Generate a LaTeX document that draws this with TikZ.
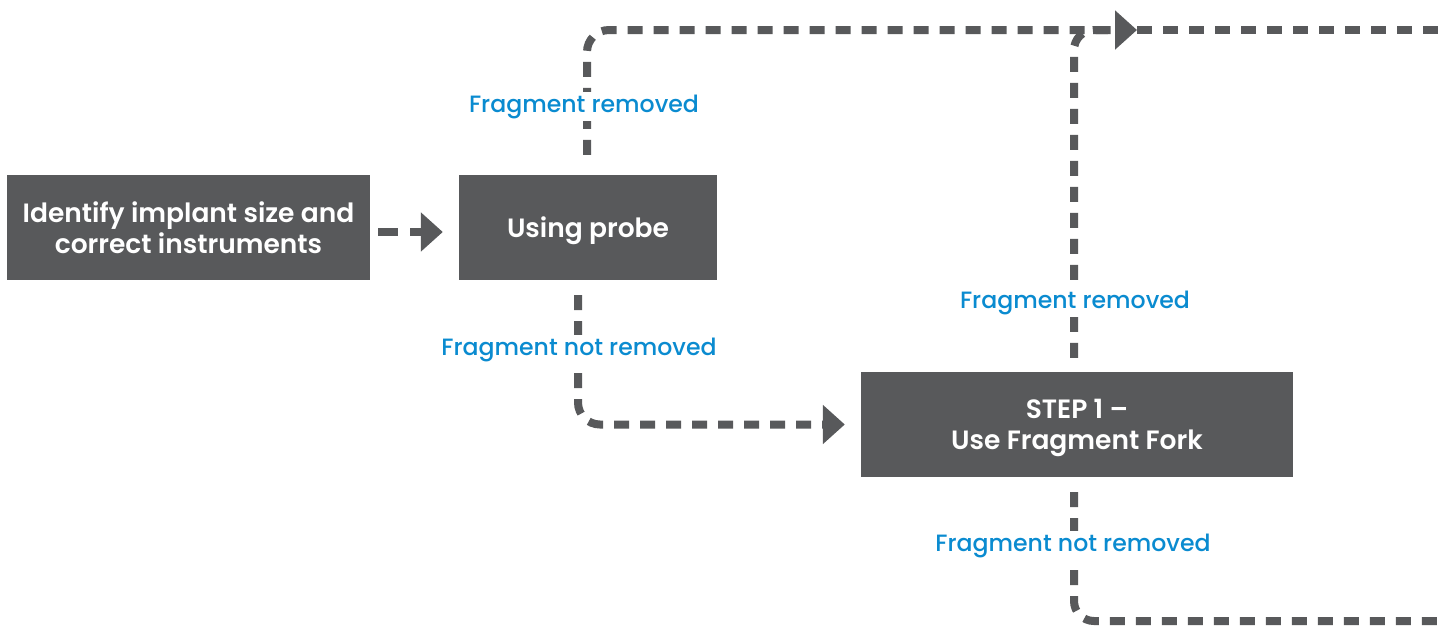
\documentclass[tikz,border=0pt]{standalone}
\usepackage{fontspec}
\setmainfont{Poppins}
\newfontfamily\boxfont{Poppins SemiBold}
\newfontfamily\labfont{Poppins Medium}
\usetikzlibrary{arrows.meta,calc}
\definecolor{boxgray}{HTML}{58595B}
\definecolor{labblue}{HTML}{0A8BD0}
\begin{document}
\begin{tikzpicture}[x=1pt,y=-1pt,
  stepbox/.style={fill=boxgray,text=white,inner sep=0pt,align=center,text depth=0pt,
    font=\fontsize{26.5}{31}\boxfont},
  conn/.style={draw=boxgray,line width=8pt,dash pattern=on 15pt off 11pt},
  tip/.style={-{Triangle[length=22pt,width=38pt]}},
  lab/.style={fill=white,text=labblue,inner sep=3pt,anchor=base,font=\fontsize{23.6}{26}\labfont}]
\useasboundingbox (0,0) rectangle (1444,625);
\node[stepbox,minimum width=363pt,minimum height=105pt] (A) at (188.5,227.5)
  {Identify implant size and\\correct instruments};
\node[stepbox,minimum width=258pt,minimum height=105pt] (B) at (588,227.5) {Using probe};
\node[stepbox,minimum width=432pt,minimum height=105pt] (C) at (1077,424.5) {STEP 1 –\\Use Fragment Fork};
\coordinate (T) at (1137,30);
\coordinate (R1) at (1450,30);
\coordinate (R2) at (1450,621);
% A -> B
\draw[conn,dash pattern=on 20pt off 12pt,tip] ($(A.east)+(8,4.5)$) -- ($(B.west)+(-16,4.5)$);
% probe top
\draw[conn,tip,rounded corners=22pt] ($(B.north)+(-1,-20)$) |- (T);
\draw[conn] (T) -- (R1);
% fork top
\draw[conn,rounded corners=20pt] ($(C.north)+(-3,-14)$) |- ($(T)+(-20,0)$);
% probe bottom
\draw[conn,tip,rounded corners=22pt] ($(B.south)+(-10,15)$) |- ($(C.west)+(-16,0)$);
% fork bottom
\draw[conn,rounded corners=20pt] ($(C.south)+(-3,15)$) |- (R2);
% labels
\node[lab] (L1) at (584,112) {Fragment removed};
\node[lab] (L2) at (579,355) {Fragment not removed};
\node[lab] (L3) at (1075,308) {Fragment removed};
\node[lab] (L4) at (1073,551) {Fragment not removed};
\end{tikzpicture}
\end{document}
